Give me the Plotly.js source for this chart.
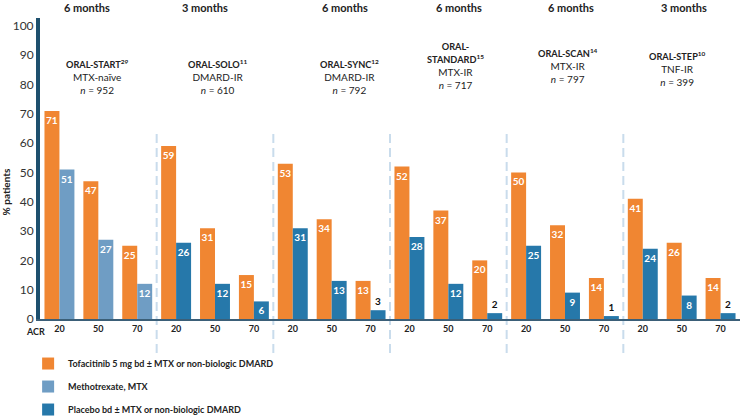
<!DOCTYPE html>
<html><head><meta charset="utf-8">
<script src="https://cdn.plot.ly/plotly-3.0.1.min.js"></script>
<style>html,body{margin:0;padding:0;background:#fff}#chart{width:740px;height:419px}</style>
</head><body><div id="chart"></div>
<script>
// ---- data ----
const studies = ['ORAL-START', 'ORAL-SOLO', 'ORAL-SYNC', 'ORAL-STANDARD', 'ORAL-SCAN', 'ORAL-STEP'];
const studyLabels = ['ORAL-START', 'ORAL-SOLO', 'ORAL-SYNC', 'ORAL-<br>STANDARD', 'ORAL-SCAN', 'ORAL-STEP'];
const studyRefs = ['29', '11', '12', '15', '14', '10'];
const populations = ['MTX-naïve', 'DMARD-IR', 'DMARD-IR', 'MTX-IR', 'MTX-IR', 'TNF-IR'];
const sampleSizes = [952, 610, 792, 717, 797, 399];
const durations = ['6 months', '3 months', '6 months', '6 months', '6 months', '3 months'];
const acrLevels = ['20', '50', '70'];
const tofacitinib = [71, 47, 25, 59, 31, 15, 53, 34, 13, 52, 37, 20, 50, 32, 14, 41, 26, 14];
const methotrexate = [51, 27, 12];                       // ORAL-START only
const placebo = [26, 12, 6, 31, 13, 3, 28, 12, 2, 25, 9, 1, 24, 8, 2]; // ORAL-SOLO .. ORAL-STEP
const seriesNames = [
  'Tofacitinib 5 mg bd ± MTX or non-biologic DMARD',
  'Methotrexate, MTX',
  'Placebo bd ± MTX or non-biologic DMARD'
];

// ---- build ----
const FONT = 'Lato, "Open Sans", sans-serif';
const cats = [];
studies.forEach(s => acrLevels.forEach(a => cats.push(s + ' ACR' + a)));
const tickText = cats.map((c, i) => acrLevels[i % 3]);

function barTrace(name, x, y, color, group) {
  return {
    type: 'bar', name: name, x: x, y: y,
    offsetgroup: group, legendgroup: name,
    marker: {color: color, line: {width: 0}},
    texttemplate: '<b>%{y}</b>',
    textposition: y.map(v => v >= 5 ? 'inside' : 'outside'),
    insidetextanchor: 'end',
    insidetextfont: {color: '#ffffff', size: 10, family: FONT},
    outsidetextfont: {color: '#111111', size: 10, family: FONT},
    constraintext: 'none', cliponaxis: false,
    hovertemplate: '%{x}: %{y}%<extra>' + name + '</extra>'
  };
}

const traces = [
  barTrace(seriesNames[0], cats, tofacitinib, '#F08632', 'a'),
  barTrace(seriesNames[1], cats.slice(0, 3), methotrexate, '#6F9DC4', 'b'),
  barTrace(seriesNames[2], cats.slice(3), placebo, '#2678AA', 'b')
];

const shapes = [];
for (let i = 1; i < studies.length; i++) {
  shapes.push({type: 'line', xref: 'x', yref: 'paper', x0: i * 3 - 0.5, x1: i * 3 - 0.5,
    y0: -0.113, y1: 0.621, layer: 'below',
    line: {color: '#C9DCEC', width: 2, dash: '9px,5px'}});
}

const headShift = [-11, -10, 13, 11, 6, 2];
const nameShift = [-1, 2, 18, 7, 3, -4];
const nameTop = [0.874, 0.874, 0.874, 0.930, 0.910, 0.900];
const annotations = [];
studies.forEach((s, i) => {
  annotations.push({xref: 'x', yref: 'paper', x: i * 3 + 1, y: 1.0365, xshift: headShift[i],
    xanchor: 'center', yanchor: 'middle', showarrow: false,
    text: '<b>' + durations[i] + '</b>', font: {size: 11, color: '#222', family: FONT}});
  annotations.push({xref: 'x', yref: 'paper', x: i * 3 + 1, y: nameTop[i], xshift: nameShift[i],
    xanchor: 'center', yanchor: 'top', showarrow: false, align: 'center',
    text: '<span style="font-size:9.2px"><b>' + studyLabels[i] + '<sup>' + studyRefs[i] + '</sup></b></span><br>' +
          populations[i] + '<br><i>n</i> = ' + sampleSizes[i],
    font: {size: 10, color: '#222', family: FONT}});
});
annotations.push({xref: 'paper', yref: 'paper', x: -0.007, y: -0.04, xanchor: 'center', yanchor: 'middle',
  showarrow: false, text: '<b>ACR</b>', font: {size: 9, color: '#222', family: FONT}});
annotations.push({xref: 'paper', yref: 'paper', x: -0.048, y: 0.422, xanchor: 'center', yanchor: 'middle',
  textangle: -90, showarrow: false, text: '<b>% patients</b>', font: {size: 10, color: '#222', family: FONT}});

const layout = {
  width: 740, height: 419,
  margin: {l: 40, r: 0, t: 18, b: 100, pad: 0, autoexpand: false},
  paper_bgcolor: '#ffffff', plot_bgcolor: '#ffffff',
  font: {family: FONT, color: '#222'},
  barmode: 'group', bargap: 0.23, bargroupgap: 0,
  showlegend: true,
  xaxis: {type: 'category', categoryorder: 'array', categoryarray: cats,
    tickvals: cats, ticktext: tickText, range: [-0.5, 17.5],
    showline: true, linecolor: '#3B5F78', linewidth: 2, ticks: '',
    showgrid: false, zeroline: false, fixedrange: true, automargin: false,
    tickfont: {size: 9, weight: 'bold', color: '#222', family: FONT}},
  yaxis: {range: [0, 102.7], tickvals: [0, 10, 20, 30, 40, 50, 60, 70, 80, 90, 100],
    showline: true, linewidth: 4, linecolor: '#1E506E', ticks: '',
    showgrid: false, zeroline: false, fixedrange: true, automargin: false,
    tickfont: {size: 12, color: '#333', family: FONT}},
  legend: {xref: 'container', yref: 'container', x: 0.038, y: 0.167, xanchor: 'left', yanchor: 'top',
    traceorder: 'grouped', tracegroupgap: 4, bgcolor: 'rgba(0,0,0,0)',
    font: {size: 9, weight: 'bold', color: '#222', family: FONT}},
  shapes: shapes,
  annotations: annotations
};

Plotly.newPlot('chart', traces, layout, {displayModeBar: false, staticPlot: false});
</script>
</body></html>
